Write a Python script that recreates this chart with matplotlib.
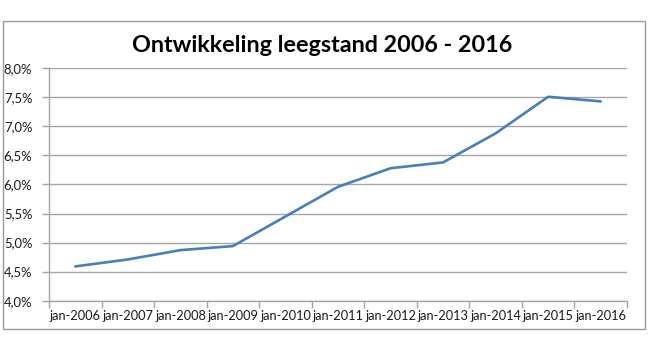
import matplotlib
matplotlib.use("Agg")
import matplotlib.pyplot as plt
from matplotlib.patches import Rectangle
from matplotlib.ticker import FixedLocator, FuncFormatter, NullFormatter
import numpy as np

# Leegstand per jaar (percentage)
jaren = ["jan-2006", "jan-2007", "jan-2008", "jan-2009", "jan-2010", "jan-2011",
         "jan-2012", "jan-2013", "jan-2014", "jan-2015", "jan-2016"]
leegstand = [4.59, 4.71, 4.87, 4.94, 5.45, 5.96, 6.28, 6.38, 6.88, 7.51, 7.43]
y_ticks = [4.0, 4.5, 5.0, 5.5, 6.0, 6.5, 7.0, 7.5, 8.0]
titel = "Ontwikkeling leegstand 2006 - 2016"

plt.rcParams["font.family"] = ["Lato", "DejaVu Sans"]

W, H = 650, 350
fig = plt.figure(figsize=(W / 100, H / 100), dpi=100)
fig.patch.set_facecolor("white")

# outer chart frame
fig.patches.append(Rectangle((3 / W, 1 - 329 / H), 642 / W, 308 / H,
                             transform=fig.transFigure, fill=False,
                             edgecolor="#9a9a9a", linewidth=1.0))

left, right, top, bottom = 49, 627, 68.3, 300.7
ax = fig.add_axes([left / W, 1 - bottom / H, (right - left) / W, (bottom - top) / H])

x = np.arange(len(jaren))
ax.plot(x, leegstand, color="#4A7EBB", linewidth=1.9, solid_capstyle="round",
        solid_joinstyle="round", zorder=3)

ax.set_xlim(-0.5, len(jaren) - 0.5)
ax.set_ylim(y_ticks[0], y_ticks[-1])

grid_col = "#a6a6a6"
ax.yaxis.set_major_locator(FixedLocator(y_ticks))
ax.yaxis.set_major_formatter(FuncFormatter(lambda v, p: f"{v:.1f}".replace(".", ",") + "%"))
ax.grid(axis="y", color=grid_col, linewidth=1.0)
ax.set_axisbelow(True)

ax.set_xticks(x)
ax.set_xticklabels(jaren)
ax.xaxis.set_minor_locator(FixedLocator(np.arange(-0.5, len(jaren), 1.0)))
ax.xaxis.set_minor_formatter(NullFormatter())
ax.tick_params(axis="x", which="major", length=0, pad=7, labelsize=9.2, colors="#1a1a1a")
ax.tick_params(axis="x", which="minor", length=5, color=grid_col, width=1.0)
ax.tick_params(axis="y", which="major", length=5, color=grid_col, width=1.0,
               labelsize=9.4, pad=7, labelcolor="#1a1a1a")

for side in ("top", "right"):
    ax.spines[side].set_visible(False)
for side in ("left", "bottom"):
    ax.spines[side].set_color(grid_col)
    ax.spines[side].set_linewidth(1.0)

fig.text(322 / W, 1 - 46 / H, titel, ha="center", va="center",
         fontsize=16.8, fontweight="bold", color="#000000")

fig.savefig("out.png", dpi=100)
